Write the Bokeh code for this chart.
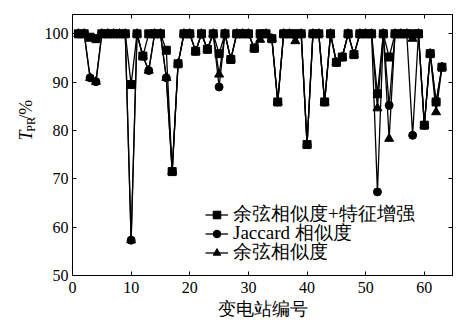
import math
from bokeh.plotting import figure
from bokeh.layouts import row
from bokeh.models import (Range1d, LinearAxis, Legend, LegendItem, Label,
                          FixedTicker)
from bokeh.embed import file_html
from bokeh.resources import INLINE

# ---------------- data ----------------
stations = list(range(1, 64))

cos_feat = [100, 100, 99.3, 99.0, 100, 100, 100, 100, 100, 89.5,
            100, 95.4, 100, 100, 100, 96.6, 71.5, 93.8, 100, 100,
            96.4, 100, 96.8, 100, 95.9, 100, 94.7, 100, 100, 100,
            97.0, 100, 100, 99.0, 85.9, 100, 100, 100, 100, 77.1,
            100, 100, 85.9, 100, 94.1, 95.2, 100, 95.7, 100, 100,
            100, 87.6, 100, 95.2, 100, 100, 100, 100, 100, 81.1,
            95.9, 85.9, 93.1]

jaccard = [100, 100, 90.9, 90.1, 100, 100, 100, 100, 100, 57.3,
           100, 95.4, 92.4, 100, 100, 90.9, 71.5, 93.8, 100, 100,
           96.4, 100, 96.8, 100, 89.0, 100, 94.7, 100, 100, 100,
           97.0, 100, 100, 99.0, 85.9, 100, 100, 100, 100, 77.1,
           100, 100, 85.9, 100, 94.1, 95.2, 100, 95.7, 100, 100,
           100, 67.3, 100, 85.2, 100, 100, 100, 79.0, 100, 81.1,
           95.9, 85.9, 93.1]

cosine = [100, 100, 90.9, 90.1, 100, 100, 100, 100, 100, 57.3,
          100, 95.4, 92.4, 100, 100, 90.9, 71.5, 93.8, 100, 100,
          96.4, 100, 96.8, 100, 91.6, 100, 94.7, 100, 100, 100,
          97.0, 98.8, 100, 99.0, 85.9, 100, 100, 98.5, 100, 77.1,
          100, 100, 85.9, 100, 94.1, 95.2, 100, 95.7, 100, 100,
          100, 84.6, 100, 78.3, 100, 100, 100, 99.0, 100, 81.1,
          95.9, 83.8, 93.1]

series_labels = ["余弦相似度+特征增强", "Jaccard 相似度", "余弦相似度"]
x_ticks = [0, 10, 20, 30, 40, 50, 60]
y_ticks = [50, 60, 70, 80, 90, 100]
x_title = "变电站编号"
y_title_parts = ["T", "PR", "/%"]

SERIF = "Times New Roman"
XMAX, YMIN, YMAX = 64.8, 50, 104
TW, W, H = 40, 455, 325

# ---------------- y-title strip ----------------
t = figure(width=TW, height=H, output_backend="svg", toolbar_location=None,
           x_range=Range1d(0, TW), y_range=Range1d(0, H),
           x_axis_location=None, y_axis_location=None,
           min_border=0, min_border_left=0, min_border_right=0,
           min_border_top=0, min_border_bottom=0)
t.grid.visible = False
t.outline_line_color = None
t.background_fill_color = "white"
t.border_fill_color = "white"
ang = math.pi / 2
t.add_layout(Label(x=25, y=H - 157, text=y_title_parts[0], angle=ang,
                   text_font=SERIF, text_font_style="italic", text_font_size="18px",
                   text_align="left", text_baseline="middle", text_color="black"))
t.add_layout(Label(x=30, y=H - 146, text=y_title_parts[1], angle=ang,
                   text_font=SERIF, text_font_size="12px",
                   text_align="left", text_baseline="middle", text_color="black"))
t.add_layout(Label(x=25, y=H - 131, text=y_title_parts[2], angle=ang,
                   text_font=SERIF, text_font_size="18px",
                   text_align="left", text_baseline="middle", text_color="black"))

# ---------------- main figure ----------------
p = figure(width=W - TW, height=H, output_backend="svg", toolbar_location=None,
           x_range=Range1d(0, XMAX), y_range=Range1d(YMIN, YMAX),
           min_border_left=72 - TW, min_border_right=3, min_border_top=14,
           min_border_bottom=50)
p.background_fill_color = "white"
p.border_fill_color = "white"
p.grid.visible = False
p.outline_line_color = "black"
p.outline_line_width = 1

for ax in (p.xaxis[0], p.yaxis[0]):
    ax.major_tick_in = 4
    ax.major_tick_out = 0
    ax.minor_tick_line_color = None
    ax.axis_line_color = "black"
    ax.major_tick_line_color = "black"
    ax.major_label_text_font = SERIF
    ax.major_label_text_font_size = "16px"
    ax.major_label_text_color = "black"

p.xaxis[0].ticker = FixedTicker(ticks=x_ticks)
p.yaxis[0].ticker = FixedTicker(ticks=y_ticks)
p.xaxis[0].major_label_standoff = 6
p.yaxis[0].major_label_standoff = 4
p.xaxis[0].axis_label = x_title
p.xaxis[0].axis_label_text_font = SERIF
p.xaxis[0].axis_label_text_font_size = "18px"
p.xaxis[0].axis_label_text_font_style = "normal"
p.xaxis[0].axis_label_text_color = "black"
p.xaxis[0].axis_label_standoff = 3

top = LinearAxis(ticker=FixedTicker(ticks=x_ticks), major_label_overrides={v: "" for v in x_ticks},
                 major_label_text_font_size="0px", major_label_standoff=0,
                 major_tick_in=4, major_tick_out=0, minor_tick_line_color=None)
right = LinearAxis(ticker=FixedTicker(ticks=y_ticks), major_label_overrides={v: "" for v in y_ticks},
                   major_label_text_font_size="0px", major_label_standoff=0,
                   major_tick_in=4, major_tick_out=0, minor_tick_line_color=None)
p.add_layout(top, "above")
p.add_layout(right, "right")

# ---------------- series ----------------
markers = ["square", "circle", "triangle"]
sizes = [8, 8, 9]
data_sets = [cos_feat, jaccard, cosine]
rends = {}
for i in [2, 1, 0]:
    lr = p.line(stations, data_sets[i], line_color="black", line_width=1.3)
    sr = p.scatter(stations, data_sets[i], marker=markers[i], size=sizes[i],
                   fill_color="black", line_color="black")
    rends[i] = [lr, sr]

# one legend per row so that the rows sit where they do in the reference
row_y = [48, 29, 10]
for i in range(3):
    lg = Legend(items=[LegendItem(label=series_labels[i], renderers=rends[i])],
                location=(133, row_y[i]))
    lg.background_fill_alpha = 0
    lg.border_line_color = None
    lg.padding = 0
    lg.margin = 0
    lg.spacing = 0
    lg.glyph_width = 23
    lg.glyph_height = 19
    lg.label_height = 19
    lg.label_standoff = 5
    lg.label_text_font = SERIF
    lg.label_text_font_size = "19px"
    lg.label_text_color = "black"
    p.add_layout(lg, "center")

layout = row(t, p, spacing=0)
open("out.html", "w").write(file_html(layout, INLINE))
